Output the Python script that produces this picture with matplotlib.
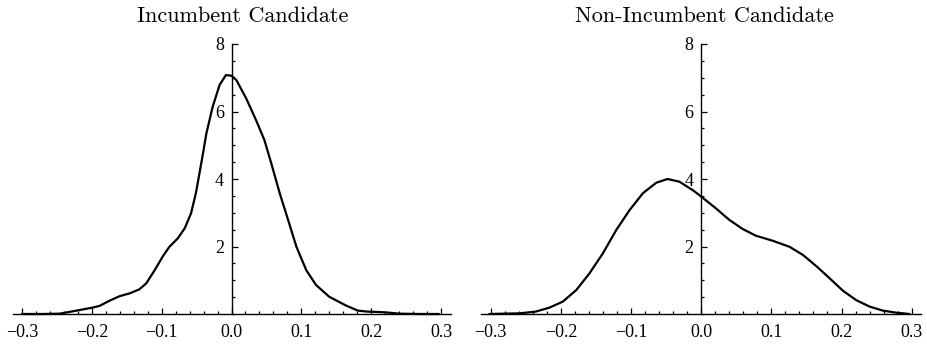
import matplotlib
matplotlib.use("Agg")
import matplotlib.pyplot as plt
from matplotlib.ticker import FixedLocator, FixedFormatter, MultipleLocator

# ---- data ----
titles = ["Incumbent Candidate", "Non-Incumbent Candidate"]

inc_x = [-0.300, -0.270, -0.246, -0.222, -0.199, -0.189, -0.175, -0.160, -0.146,
         -0.132, -0.122, -0.110, -0.098, -0.089, -0.077, -0.067, -0.058, -0.051,
         -0.045, -0.040, -0.036, -0.027, -0.017, -0.008, 0.000, 0.007, 0.021,
         0.035, 0.047, 0.057, 0.069, 0.081, 0.093, 0.107, 0.121, 0.140, 0.164,
         0.181, 0.195, 0.211, 0.225, 0.240, 0.270, 0.297]
inc_y = [0.00, 0.00, 0.01, 0.10, 0.19, 0.24, 0.39, 0.53, 0.61,
         0.73, 0.91, 1.30, 1.72, 1.99, 2.24, 2.54, 2.98, 3.58,
         4.27, 4.86, 5.35, 6.14, 6.79, 7.08, 7.06, 6.93, 6.39,
         5.75, 5.16, 4.46, 3.58, 2.79, 1.99, 1.30, 0.86, 0.51, 0.25,
         0.10, 0.07, 0.06, 0.04, 0.01, 0.00, 0.00]

non_x = [-0.302, -0.259, -0.236, -0.216, -0.197, -0.178, -0.159, -0.140, -0.121,
         -0.102, -0.083, -0.064, -0.048, -0.031, -0.012, 0.000, 0.021, 0.040,
         0.059, 0.078, 0.102, 0.126, 0.145, 0.164, 0.183, 0.202, 0.221,
         0.240, 0.259, 0.278, 0.297]
non_y = [0.00, 0.02, 0.07, 0.19, 0.37, 0.71, 1.21, 1.80, 2.49,
         3.08, 3.58, 3.89, 4.00, 3.92, 3.67, 3.48, 3.13, 2.79,
         2.52, 2.32, 2.17, 1.99, 1.75, 1.42, 1.06, 0.69, 0.41,
         0.22, 0.10, 0.04, 0.00]

x_ticks = [-0.3, -0.2, -0.1, 0.0, 0.1, 0.2, 0.3]
x_labels = ["\u22120.3", "\u22120.2", "\u22120.1", "0.0", "0.1", "0.2", "0.3"]
y_ticks = [2, 4, 6, 8]
y_labels = ["2", "4", "6", "8"]

W, H = 928, 345
fig = plt.figure(figsize=(W / 100, H / 100), dpi=100)

panels = [
    (inc_x, inc_y, (13, 451), (-0.3129, 0.3143), 243),
    (non_x, non_y, (481, 921), (-0.3138, 0.3133), 704),
]
y0_px, y8_px = 314, 44

for (xs, ys, (l, r), xl, tcx), title in zip(panels, titles):
    ax = fig.add_axes([l / W, 1 - y0_px / H, (r - l) / W, (y0_px - y8_px) / H])
    ax.plot(xs, ys, color="black", lw=1.6, clip_on=False,
            solid_joinstyle="round", solid_capstyle="round")
    ax.set_xlim(*xl)
    ax.set_ylim(0, 8)
    for s in ("top", "right"):
        ax.spines[s].set_visible(False)
    ax.spines["left"].set_position(("data", 0))
    ax.spines["left"].set_linewidth(1.0)
    ax.spines["bottom"].set_linewidth(1.0)
    ax.xaxis.set_major_locator(FixedLocator(x_ticks))
    ax.xaxis.set_major_formatter(FixedFormatter(x_labels))
    ax.xaxis.set_minor_locator(MultipleLocator(0.02))
    ax.yaxis.set_major_locator(FixedLocator(y_ticks))
    ax.yaxis.set_major_formatter(FixedFormatter(y_labels))
    ax.yaxis.set_minor_locator(MultipleLocator(0.5))
    ax.tick_params(which="both", direction="in", width=0.9, colors="black",
                   labelsize=13)
    ax.tick_params(which="major", length=4.0)
    ax.tick_params(which="minor", length=2.3)
    ax.tick_params(axis="x", which="major", pad=7.5)
    ax.tick_params(axis="y", which="major", pad=5.5)
    for lab in ax.get_xticklabels() + ax.get_yticklabels():
        lab.set_fontfamily("Liberation Serif")
    ax.patch.set_visible(False)
    fig.text(tcx / W, 1 - 16 / H, title, ha="center", va="center",
             fontsize=16, fontfamily="cmr10")

fig.savefig("out.png", dpi=100)
